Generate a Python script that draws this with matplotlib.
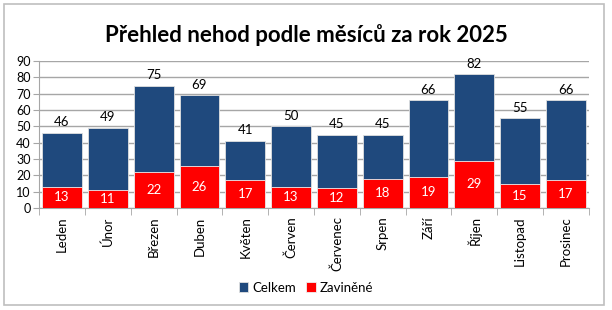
import matplotlib.pyplot as plt
import numpy as np
from matplotlib.patches import Rectangle

plt.rcParams['font.family'] = ['Lato', 'DejaVu Sans']

months = ['Leden', 'Únor', 'Březen', 'Duben', 'Květen', 'Červen',
          'Červenec', 'Srpen', 'Září', 'Říjen', 'Listopad', 'Prosinec']
celkem = [46, 49, 75, 69, 41, 50, 45, 45, 66, 82, 55, 66]
zavinene = [13, 11, 22, 26, 17, 13, 12, 18, 19, 29, 15, 17]

blue = '#1F497D'
red = '#FF0000'
grid = '#A6A6A6'

fig = plt.figure(figsize=(6.12, 3.10), dpi=100)
fig.patches.append(Rectangle((0.006, 0.016), 0.981, 0.97, transform=fig.transFigure,
                             fill=False, edgecolor='#BFBFBF', linewidth=1.2))

ax = fig.add_axes([0.064, 0.329, 0.898, 0.474])
x = np.arange(len(months))
w = 0.87
b1 = ax.bar(x, celkem, w, color=blue, edgecolor='#E0E0E0', linewidth=0.6,
            label='Celkem', zorder=3)
b2 = ax.bar(x, zavinene, w, color=red, edgecolor='#F0F0F0', linewidth=0.6,
            label='Zaviněné', zorder=4)

for xi, c in zip(x, celkem):
    ax.text(xi, c + 2.8, str(c), ha='center', va='bottom', fontsize=9.5, color='black')
for xi, z in zip(x, zavinene):
    ax.text(xi, z / 2, str(z), ha='center', va='center', fontsize=9.5, color='white', zorder=5)

ax.set_xlim(-0.5, len(months) - 0.5)
ax.set_ylim(0, 90)
ax.set_yticks(range(0, 91, 10))
ax.yaxis.grid(True, color=grid, linewidth=1)
ax.set_axisbelow(True)
ax.tick_params(axis='y', labelsize=9, length=4, color=grid, pad=2)

ax.set_xticks(x)
ax.set_xticklabels(months, rotation=90, fontsize=9.5)
ax.tick_params(axis='x', length=0, pad=6)
ax.set_xticks(np.arange(-0.5, len(months), 1), minor=True)
ax.tick_params(axis='x', which='minor', length=5, color=grid)

for s in ['top', 'right']:
    ax.spines[s].set_visible(False)
for s in ['left', 'bottom']:
    ax.spines[s].set_color(grid)

fig.text(0.5, 0.887, 'Přehled nehod podle měsíců za rok 2025', ha='center', va='center',
         fontsize=16, fontweight='bold')

fig.legend(handles=[b1, b2], loc='center', bbox_to_anchor=(0.5, 0.072), ncol=2,
           frameon=False, fontsize=9.5, handlelength=0.7, handleheight=0.7,
           handletextpad=0.3, columnspacing=0.8)

fig.savefig('out.png', dpi=100)
